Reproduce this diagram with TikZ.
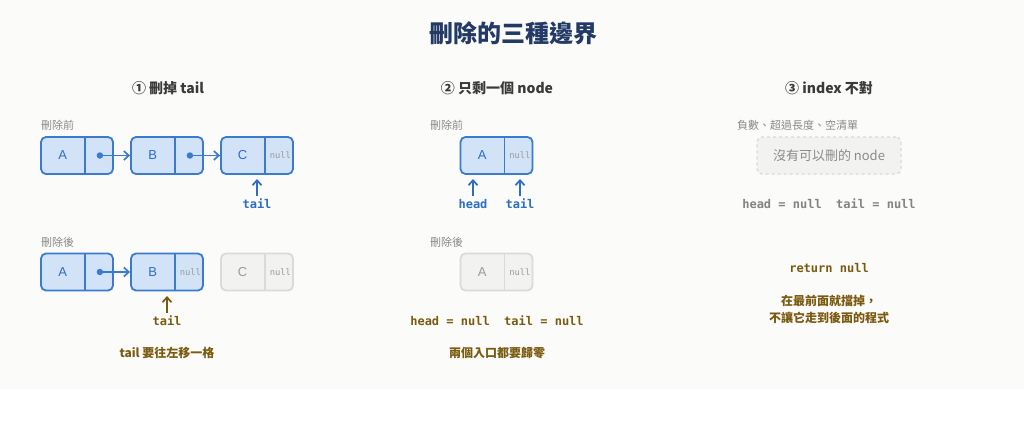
\documentclass[tikz,border=0pt]{standalone}
\usepackage{fontspec}
\setmainfont{Noto Sans CJK TC}
\setmonofont{DejaVu Sans Mono}
\newfontfamily\latinsans{Liberation Sans}
\usetikzlibrary{arrows.meta,calc}
\definecolor{bgc}{HTML}{FBFBF9}
\definecolor{bfill}{HTML}{D3E3F7}
\definecolor{bline}{HTML}{3A7BD0}
\definecolor{btext}{HTML}{2C6EC4}
\definecolor{gfill}{HTML}{F2F2F1}
\definecolor{gline}{HTML}{DADADA}
\definecolor{gtext}{HTML}{9A9A9A}
\definecolor{olive}{HTML}{7A5A10}
\definecolor{navy}{HTML}{233A66}
\definecolor{sect}{HTML}{3A3A3A}
\definecolor{lab}{HTML}{8A8A8A}
\tikzset{
  x=1pt,y=-1pt,
  bbox/.style={draw=bline,fill=bfill,line width=1.8pt,rounded corners=5pt,minimum width=72pt,minimum height=37pt,inner sep=0pt},
  gbox/.style={draw=gline,fill=gfill,line width=1.8pt,rounded corners=5pt,minimum width=72pt,minimum height=37pt,inner sep=0pt},
  bdiv/.style={draw=bline,line width=1.5pt},
  gdiv/.style={draw=gline,line width=1.5pt},
  blet/.style={text=btext,font=\latinsans\fontsize{13}{14}\selectfont},
  glet/.style={text=gtext,font=\latinsans\fontsize{13}{14}\selectfont},
  nulltxt/.style={text=gtext,font=\ttfamily\fontsize{8.8}{10}\selectfont,inner sep=0pt},
  ptr/.style={draw=bline,line width=1.7pt,-{Straight Barb[length=5pt,width=9pt]}},
  dotc/.style={circle,fill=bline,inner sep=0pt,minimum size=6.5pt},
  bup/.style={draw=btext,line width=1.7pt,-{Straight Barb[length=5pt,width=9pt]}},
  oup/.style={draw=olive,line width=1.7pt,-{Straight Barb[length=5pt,width=9pt]}},
  bcode/.style={text=btext,font=\ttfamily\bfseries\fontsize{12}{13}\selectfont},
  ocode/.style={text=olive,font=\ttfamily\bfseries\fontsize{12}{13}\selectfont},
  gcode/.style={text=gtext!85!black,font=\ttfamily\bfseries\fontsize{12}{13}\selectfont},
  otxt/.style={text=olive,font=\bfseries\fontsize{12}{17}\selectfont,align=center},
  labl/.style={text=lab,font=\fontsize{11}{12}\selectfont,anchor=west,inner sep=0pt},
  secttl/.style={text=sect,font=\bfseries\fontsize{14}{16}\selectfont},
}
\begin{document}
\begin{tikzpicture}
\useasboundingbox (0,0) rectangle (1024,420);
\fill[bgc] (0,0) rectangle (1024,389);
\node[text=navy,font=\bfseries\fontsize{24}{28}\selectfont] (title) at (513,33) {刪除的三種邊界};

% ---------- Section 1 ----------
\node[secttl] (s1) at (168,88) {① 刪掉 tail};
\node[labl] (l1a) at (41,125) {刪除前};
\node[bbox] (A1) at (77,155.5) {};
\node[bbox] (B1) at (167,155.5) {};
\node[bbox] (C1) at (257,155.5) {};
\draw[bdiv] ($(A1.north west)+(45,0)$) -- ($(A1.south west)+(45,0)$);
\draw[bdiv] ($(B1.north west)+(45,0)$) -- ($(B1.south west)+(45,0)$);
\draw[bdiv] ($(C1.north west)+(45,0)$) -- ($(C1.south west)+(45,0)$);
\node[blet] (A1t) at ($(A1.west)+(22.5,0)$) {A};
\node[blet] (B1t) at ($(B1.west)+(22.5,0)$) {B};
\node[blet] (C1t) at ($(C1.west)+(22.5,0)$) {C};
\node[nulltxt] (C1n) at ($(C1.east)+(-13.5,0)$) {null};
\node[dotc] (A1d) at ($(A1.east)+(-14,0)$) {};
\node[dotc] (B1d) at ($(B1.east)+(-14,0)$) {};
\draw[ptr] (A1d.center) -- (B1.west);
\draw[ptr] (B1d.center) -- (C1.west);
\node[bcode] (t1) at (257,204) {tail};
\coordinate (t1top) at (257,179);
\draw[bup] (t1.north) -- (t1top);
\node[labl] (l1b) at (41,242) {刪除後};
\node[bbox] (A2) at (77,272) {};
\node[bbox] (B2) at (167,272) {};
\node[gbox] (C2) at (257,272) {};
\draw[bdiv] ($(A2.north west)+(45,0)$) -- ($(A2.south west)+(45,0)$);
\draw[bdiv] ($(B2.north west)+(45,0)$) -- ($(B2.south west)+(45,0)$);
\draw[gdiv] ($(C2.north west)+(45,0)$) -- ($(C2.south west)+(45,0)$);
\node[blet] (A2t) at ($(A2.west)+(22.5,0)$) {A};
\node[blet] (B2t) at ($(B2.west)+(22.5,0)$) {B};
\node[glet] (C2t) at ($(C2.west)+(22.5,0)$) {C};
\node[nulltxt] (B2n) at ($(B2.east)+(-13.5,0)$) {null};
\node[nulltxt] (C2n) at ($(C2.east)+(-13.5,0)$) {null};
\node[dotc] (A2d) at ($(A2.east)+(-14,0)$) {};
\draw[ptr] (A2d.center) -- (B2.west);
\node[ocode] (t2) at (167,321) {tail};
\coordinate (t2top) at (167,296);
\draw[oup] (t2.north) -- (t2top);
\node[otxt] (n1) at (167,353) {tail 要往左移一格};

% ---------- Section 2 ----------
\node[secttl] (s2) at (497,88) {② 只剩一個 node};
\node[labl] (l2a) at (430,125) {刪除前};
\node[bbox] (A3) at (496.5,155.5) {};
\draw[bdiv] ($(A3.north west)+(45,0)$) -- ($(A3.south west)+(45,0)$);
\node[blet] (A3t) at ($(A3.west)+(22.5,0)$) {A};
\node[nulltxt] (A3n) at ($(A3.east)+(-13.5,0)$) {null};
\node[bcode] (h3) at (473,204) {head};
\node[bcode] (t3) at (520,204) {tail};
\coordinate (h3top) at (473,179);
\coordinate (t3top) at (520,179);
\draw[bup] (h3.north) -- (h3top);
\draw[bup] (t3.north) -- (t3top);
\node[labl] (l2b) at (430,242) {刪除後};
\node[gbox] (A4) at (496.5,272) {};
\draw[gdiv] ($(A4.north west)+(45,0)$) -- ($(A4.south west)+(45,0)$);
\node[glet] (A4t) at ($(A4.west)+(22.5,0)$) {A};
\node[nulltxt] (A4n) at ($(A4.east)+(-13.5,0)$) {null};
\node[ocode] (c2) at (497,321) {head = null\ \ tail = null};
\node[otxt] (n2) at (497,353) {兩個入口都要歸零};

% ---------- Section 3 ----------
\node[secttl] (s3) at (829,88) {③ index 不對};
\node[labl] (l3) at (737,125) {負數、超過長度、空清單};
\node[draw=gline,fill=gfill,dashed,line width=1.4pt,rounded corners=5pt,minimum width=144pt,minimum height=37pt,text=gtext!90!black,font=\fontsize{13}{14}\selectfont] (nb) at (829,155.5) {沒有可以刪的 node};
\node[gcode] (c3) at (829,204) {head = null\ \ tail = null};
\node[ocode] (r3) at (829,268) {return null};
\node[otxt] (n3) at (829,309) {在最前面就擋掉，\\不讓它走到後面的程式};
\end{tikzpicture}
\end{document}
